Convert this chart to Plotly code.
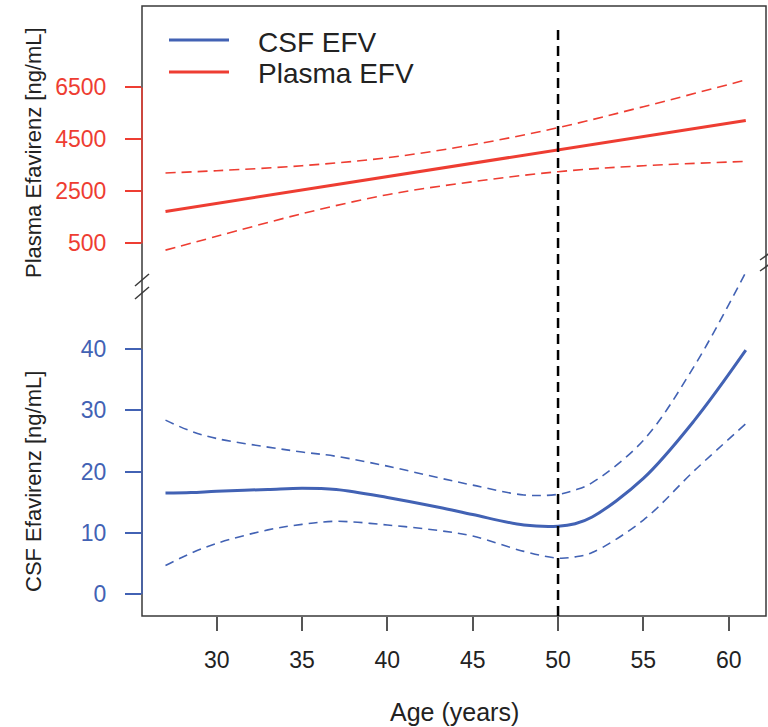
import plotly.graph_objects as go

# ---- data ----
csf_age = [27, 28.5, 30, 33, 35, 37, 40, 43, 45, 48, 50, 51, 52, 55, 58, 61]
csf_fit = [16.5, 16.6, 16.8, 17.1, 17.3, 17.1, 15.8, 14.2, 13.0, 11.3, 11.1, 11.5, 12.6, 18.9, 28.4, 39.8]
csf_upper = [28.4, 26.6, 25.4, 24.0, 23.2, 22.5, 20.9, 19.0, 17.8, 16.2, 16.3, 17.0, 18.2, 25.1, 37.3, 52.5]
csf_lower = [4.7, 6.7, 8.3, 10.5, 11.4, 11.9, 11.3, 10.4, 9.5, 7.0, 5.9, 6.1, 6.8, 12.1, 20.2, 27.8]

plasma_age = [27, 30, 35, 40, 45, 50, 55, 61]
plasma_fit = [1731, 2040, 2554, 3069, 3584, 4099, 4613, 5231]
plasma_upper = [3208, 3296, 3488, 3796, 4296, 4950, 5758, 6788]
plasma_lower = [242, 773, 1642, 2373, 2873, 3258, 3488, 3654]

x_ticks = [30, 35, 40, 45, 50, 55, 60]
csf_ticks = [0, 10, 20, 30, 40]
plasma_ticks = [500, 2500, 4500, 6500]
cutoff_age = 50

BLUE = "#4262B4"
RED = "#EE3D32"
FONT = "Liberation Sans, Arial, sans-serif"

fig = go.Figure()

fig.add_trace(go.Scatter(x=csf_age, y=csf_upper, mode="lines", yaxis="y",
                         line=dict(color=BLUE, width=1.6, dash="9px,6px", shape="spline"),
                         showlegend=False, hoverinfo="skip"))
fig.add_trace(go.Scatter(x=csf_age, y=csf_lower, mode="lines", yaxis="y",
                         line=dict(color=BLUE, width=1.6, dash="9px,6px", shape="spline"),
                         showlegend=False, hoverinfo="skip"))
fig.add_trace(go.Scatter(x=csf_age, y=csf_fit, mode="lines", yaxis="y", name="CSF EFV",
                         line=dict(color=BLUE, width=3, shape="spline"), showlegend=False))

fig.add_trace(go.Scatter(x=plasma_age, y=plasma_upper, mode="lines", yaxis="y2",
                         line=dict(color=RED, width=1.6, dash="10px,6px", shape="spline"),
                         showlegend=False, hoverinfo="skip"))
fig.add_trace(go.Scatter(x=plasma_age, y=plasma_lower, mode="lines", yaxis="y2",
                         line=dict(color=RED, width=1.6, dash="10px,6px", shape="spline"),
                         showlegend=False, hoverinfo="skip"))
fig.add_trace(go.Scatter(x=plasma_age, y=plasma_fit, mode="lines", yaxis="y2", name="Plasma EFV",
                         line=dict(color=RED, width=3), showlegend=False))

L, R, T, B = 142, 2, 6, 111
W, H = 768, 727
PW, PH = W - L - R, H - T - B


def px(xp):
    return (xp - L) / PW


def py(yp):
    return (T + PH - yp) / PH


shapes = [
    # plot frame
    dict(type="rect", xref="paper", yref="paper", x0=0, x1=1, y0=0, y1=1,
         line=dict(color="#3a3a3a", width=1.5), layer="above"),
    # coloured axis segments
    dict(type="line", xref="paper", yref="y", x0=0, x1=0, y0=csf_ticks[0], y1=csf_ticks[-1],
         line=dict(color=BLUE, width=1.5), layer="above"),
    dict(type="line", xref="paper", yref="y2", x0=0, x1=0, y0=plasma_ticks[0], y1=plasma_ticks[-1],
         line=dict(color=RED, width=1.5), layer="above"),
    # vertical cut-off line at age 50
    dict(type="line", xref="x", yref="paper", x0=cutoff_age, x1=cutoff_age, y0=0, y1=py(28),
         line=dict(color="black", width=2.5, dash="10px,6px"), layer="above"),
]
# axis break marks
for yc in (280, 293):
    shapes.append(dict(type="line", xref="paper", yref="paper",
                       x0=px(135), x1=px(149), y0=py(yc + 6), y1=py(yc - 6),
                       line=dict(color="#3a3a3a", width=1.5), layer="above"))
for yc in (255, 266):
    shapes.append(dict(type="line", xref="paper", yref="paper",
                       x0=px(760), x1=px(774), y0=py(yc + 5), y1=py(yc - 5),
                       line=dict(color="#3a3a3a", width=1.5), layer="above"))
# legend sample lines
shapes.append(dict(type="line", xref="paper", yref="paper", x0=px(169), x1=px(229),
                   y0=py(40), y1=py(40), line=dict(color=BLUE, width=3)))
shapes.append(dict(type="line", xref="paper", yref="paper", x0=px(169), x1=px(229),
                   y0=py(72), y1=py(72), line=dict(color=RED, width=3)))

annotations = [
    dict(text="CSF EFV", xref="paper", yref="paper", x=px(256), y=py(42), xanchor="left",
         yanchor="middle", showarrow=False, font=dict(family=FONT, size=28, color="#222")),
    dict(text="Plasma EFV", xref="paper", yref="paper", x=px(256), y=py(74), xanchor="left",
         yanchor="middle", showarrow=False, font=dict(family=FONT, size=28, color="#222")),
    dict(text="Plasma Efavirenz [ng/mL]", xref="paper", yref="paper", x=px(33), y=py(153),
         xanchor="center", yanchor="middle", textangle=-90, showarrow=False,
         font=dict(family=FONT, size=22, color="#222")),
    dict(text="CSF Efavirenz [ng/mL]", xref="paper", yref="paper", x=px(33), y=py(482),
         xanchor="center", yanchor="middle", textangle=-90, showarrow=False,
         font=dict(family=FONT, size=22, color="#222")),
    dict(text="Age (years)", xref="paper", yref="paper", x=0.5, y=py(712),
         xanchor="center", yanchor="middle", showarrow=False,
         font=dict(family=FONT, size=25, color="#222")),
]

fig.update_layout(
    width=W, height=H,
    margin=dict(l=L, r=R, t=T, b=B, pad=0),
    paper_bgcolor="white", plot_bgcolor="white",
    showlegend=False,
    font=dict(family=FONT, color="#222"),
    xaxis=dict(range=[25.623, 62.185], tickvals=x_ticks, ticks="outside", ticklen=14,
               tickwidth=1.5, tickcolor="#555", showgrid=False, zeroline=False, showline=False,
               tickfont=dict(family=FONT, size=23, color="#222"), ticklabelstandoff=9),
    yaxis=dict(range=[-3.539, 95.93], tickvals=csf_ticks, ticks="outside", ticklen=16,
               tickwidth=1.5, tickcolor=BLUE, showgrid=False, zeroline=False, showline=False,
               tickfont=dict(family=FONT, size=23, color=BLUE), ticklabelstandoff=14),
    yaxis2=dict(range=[-13831, 9631], tickvals=plasma_ticks, ticks="outside", ticklen=16,
                tickwidth=1.5, tickcolor=RED, showgrid=False, zeroline=False, showline=False,
                overlaying="y", side="left",
                tickfont=dict(family=FONT, size=23, color=RED), ticklabelstandoff=14),
    shapes=shapes,
    annotations=annotations,
)

fig.write_html("out.html")
